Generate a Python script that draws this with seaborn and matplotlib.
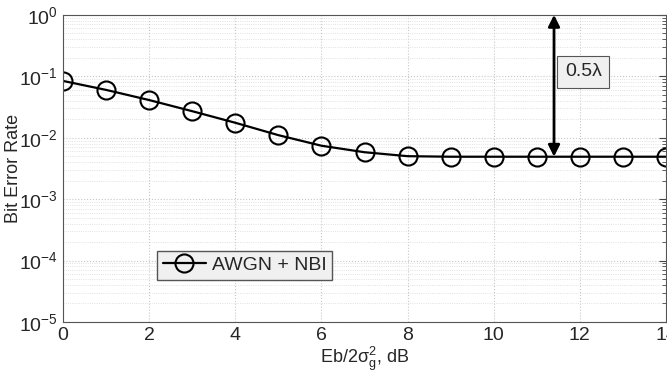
import matplotlib
matplotlib.use("Agg")
import matplotlib.pyplot as plt
import seaborn as sns
import pandas as pd
import numpy as np

snr_db = [0, 1, 2, 3, 4, 5, 6, 7, 8, 9, 10, 11, 12, 13, 14]
ber = [0.084, 0.060, 0.041, 0.027, 0.0175, 0.011, 0.0074, 0.0058, 0.0050,
       0.0049, 0.0049, 0.0049, 0.0049, 0.0049, 0.0049]
series_label = "AWGN + NBI"
x_ticks = [0, 2, 4, 6, 8, 10, 12, 14]
arrow_x = 11.4
arrow_top = 1.0
arrow_bottom = 0.0049
annot_text = "0.5\u03bb"

sns.set_style("white")
main_font = "Liberation Sans"
plt.rcParams['font.family'] = [main_font, 'DejaVu Sans']
plt.rcParams['mathtext.fontset'] = 'custom'
plt.rcParams['mathtext.rm'] = main_font
plt.rcParams['mathtext.it'] = main_font
plt.rcParams['mathtext.sf'] = main_font

fig = plt.figure(figsize=(6.67, 3.81), dpi=100)
ax = fig.add_axes([0.0945, 0.155, 0.904, 0.806])

df = pd.DataFrame({"x": snr_db, "y": ber, "s": series_label})
sns.lineplot(data=df, x="x", y="y", ax=ax, color="black", linewidth=1.6,
             marker="o", markersize=13, markerfacecolor="none",
             markeredgecolor="black", markeredgewidth=1.5, label=series_label)

ax.set_yscale("log")
ax.set_xlim(0, 14)
ax.set_ylim(1e-5, 1)
ax.set_xticks(x_ticks)
ax.set_xticklabels([str(t) for t in x_ticks])
ax.grid(True, which="major", color="#c8c8c8", linestyle=":", linewidth=0.8)
ax.grid(True, which="minor", color="#d8d8d8", linestyle=":", linewidth=0.6)
ax.tick_params(axis="both", which="major", labelsize=14, direction="in", length=5, color="#444444")
ax.tick_params(axis="y", which="minor", direction="in", length=3, color="#444444")
ax.tick_params(axis="both", which="both", right=True, top=False)
for s in ax.spines.values():
    s.set_color("#555555")
    s.set_linewidth(0.8)

ax.set_xlabel(r"Eb/2$\sigma_g^2$, dB", fontsize=13, labelpad=1)
ax.set_ylabel("Bit Error Rate", fontsize=13)
ax.yaxis.set_label_coords(-0.068, 0.5)

ax.annotate("", xy=(arrow_x, arrow_top), xytext=(arrow_x, arrow_bottom),
            arrowprops=dict(arrowstyle="<|-|>", color="black", lw=2,
                            mutation_scale=17, shrinkA=0, shrinkB=0))
ax.text(11.65, 0.118, annot_text, fontsize=14, va="center", ha="left",
        bbox=dict(boxstyle="square,pad=0.4", fc="#f0f0f0", ec="#555555", lw=0.8))

leg = ax.legend(loc="lower left", bbox_to_anchor=(0.156, 0.137), fontsize=14,
                frameon=True, fancybox=False, handlelength=2.2, borderpad=0.3,
                handletextpad=0.3, borderaxespad=0)
leg.get_frame().set_facecolor("#f0f0f0")
leg.get_frame().set_edgecolor("#555555")
leg.get_frame().set_alpha(1)

fig.savefig("out.png", dpi=100)
